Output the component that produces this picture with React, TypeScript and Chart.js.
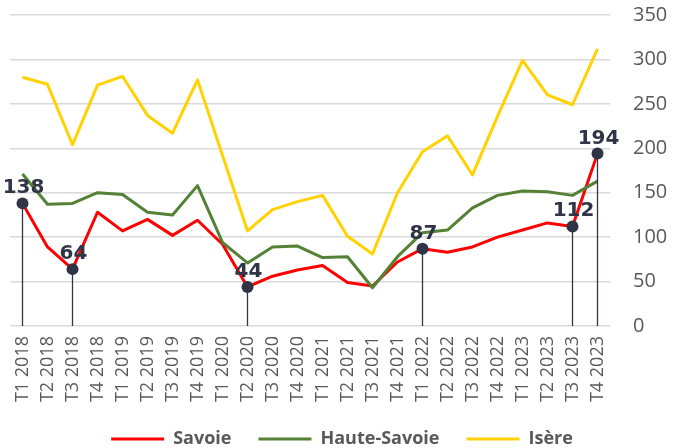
import React, { useEffect, useRef } from "react";
import { Chart, registerables } from "chart.js";

Chart.register(...registerables);

const categories = [
  "T1 2018", "T2 2018", "T3 2018", "T4 2018",
  "T1 2019", "T2 2019", "T3 2019", "T4 2019",
  "T1 2020", "T2 2020", "T3 2020", "T4 2020",
  "T1 2021", "T2 2021", "T3 2021", "T4 2021",
  "T1 2022", "T2 2022", "T3 2022", "T4 2022",
  "T1 2023", "T2 2023", "T3 2023", "T4 2023",
];

const savoie = [138, 89, 64, 128, 107, 120, 102, 119, 92, 44, 56, 63, 68, 49, 45, 72, 87, 83, 89, 100, 108, 116, 112, 194];
const hauteSavoie = [171, 137, 138, 150, 148, 128, 125, 158, 94, 71, 89, 90, 77, 78, 43, 78, 105, 108, 133, 147, 152, 151, 147, 163];
const isere = [280, 272, 204, 271, 281, 237, 217, 277, 192, 107, 131, 140, 147, 101, 81, 150, 196, 214, 170, 236, 299, 260, 249, 312];

const annotatedIndices = [0, 2, 9, 16, 22, 23];

const yTicks = { min: 0, max: 350, step: 50 };

const RED = "#FF0000";
const GREEN = "#548235";
const YELLOW = "#FFD200";
const DARK = "#2F3546";
const GREY = "#595959";

const annotationPlugin = {
  id: "savoieAnnotations",
  afterDatasetsDraw(chart: any) {
    const { ctx, chartArea, scales } = chart;
    const xs = scales.x;
    const ys = scales.y;
    ctx.save();
    annotatedIndices.forEach((i) => {
      const x = xs.getPixelForValue(i);
      const y = ys.getPixelForValue(savoie[i]);
      ctx.strokeStyle = DARK;
      ctx.lineWidth = 1.3;
      ctx.beginPath();
      ctx.moveTo(x, y);
      ctx.lineTo(x, chartArea.bottom);
      ctx.stroke();
      ctx.fillStyle = DARK;
      ctx.beginPath();
      ctx.arc(x, y, 6, 0, Math.PI * 2);
      ctx.fill();
      ctx.font = "bold 20px 'DejaVu Sans'";
      ctx.textAlign = "center";
      ctx.textBaseline = "alphabetic";
      ctx.fillText(String(savoie[i]), x + 1, y - 10);
    });
    ctx.restore();
  },
};

const whiteBg = {
  id: "whiteBg",
  beforeDraw(chart: any) {
    const { ctx, width, height } = chart;
    ctx.save();
    ctx.fillStyle = "#ffffff";
    ctx.fillRect(0, 0, width, height);
    ctx.restore();
  },
};

export default function App() {
  const canvasRef = useRef<HTMLCanvasElement | null>(null);

  useEffect(() => {
    if (!canvasRef.current) return;
    const chart = new Chart(canvasRef.current, {
      type: "line",
      data: {
        labels: categories,
        datasets: [
          { label: "Savoie", data: savoie, borderColor: RED, backgroundColor: RED, order: 3 },
          { label: "Haute-Savoie", data: hauteSavoie, borderColor: GREEN, backgroundColor: GREEN, order: 2 },
          { label: "Isère", data: isere, borderColor: YELLOW, backgroundColor: YELLOW, order: 1 },
        ],
      },
      options: {
        responsive: false,
        animation: false,
        events: [],
        elements: {
          line: { borderWidth: 3, tension: 0, borderJoinStyle: "round" },
          point: { radius: 0, hoverRadius: 0 },
        },
        layout: { padding: { left: 10, top: 15, right: 0, bottom: 0 } },
        scales: {
          x: {
            type: "category",
            offset: true,
            grid: { display: false, drawTicks: false },
            border: { display: false },
            ticks: {
              autoSkip: false,
              maxRotation: 90,
              minRotation: 90,
              padding: 10,
              color: GREY,
              font: { family: "'Open Sans'", size: 18 },
            },
            afterFit: (scale: any) => {
              scale.height = 77;
            },
          },
          y: {
            position: "right",
            min: yTicks.min,
            max: yTicks.max,
            grid: { color: "#D9D9D9", lineWidth: 1.5, drawTicks: false },
            border: { display: false },
            ticks: {
              stepSize: yTicks.step,
              padding: 23,
              color: GREY,
              font: { family: "'Open Sans'", size: 20 },
            },
            afterFit: (scale: any) => {
              scale.width = 64;
              scale.paddingTop = 0;
              scale.paddingBottom = 0;
            },
          },
        },
        plugins: {
          tooltip: { enabled: false },
          legend: {
            position: "bottom",
            labels: {
              boxWidth: 53,
              boxHeight: 3,
              padding: 27,
              color: GREY,
              font: { family: "'Open Sans'", size: 18, weight: "bold" },
              sort: (a: any, b: any) => a.datasetIndex - b.datasetIndex,
              generateLabels: (c: any) => {
                const items = (Chart as any).defaults.plugins.legend.labels.generateLabels(c);
                items.forEach((it: any) => {
                  it.lineWidth = 0;
                  it.fillStyle = it.strokeStyle;
                });
                return items;
              },
            },
          },
        },
      },
      plugins: [whiteBg, annotationPlugin],
    });
    return () => chart.destroy();
  }, []);

  return (
    <div
      style={{
        position: "fixed",
        left: 0,
        top: 0,
        width: 674,
        height: 448,
        overflow: "hidden",
        background: "#ffffff",
      }}
    >
      <canvas ref={canvasRef} width={674} height={458} style={{ display: "block" }} />
    </div>
  );
}
